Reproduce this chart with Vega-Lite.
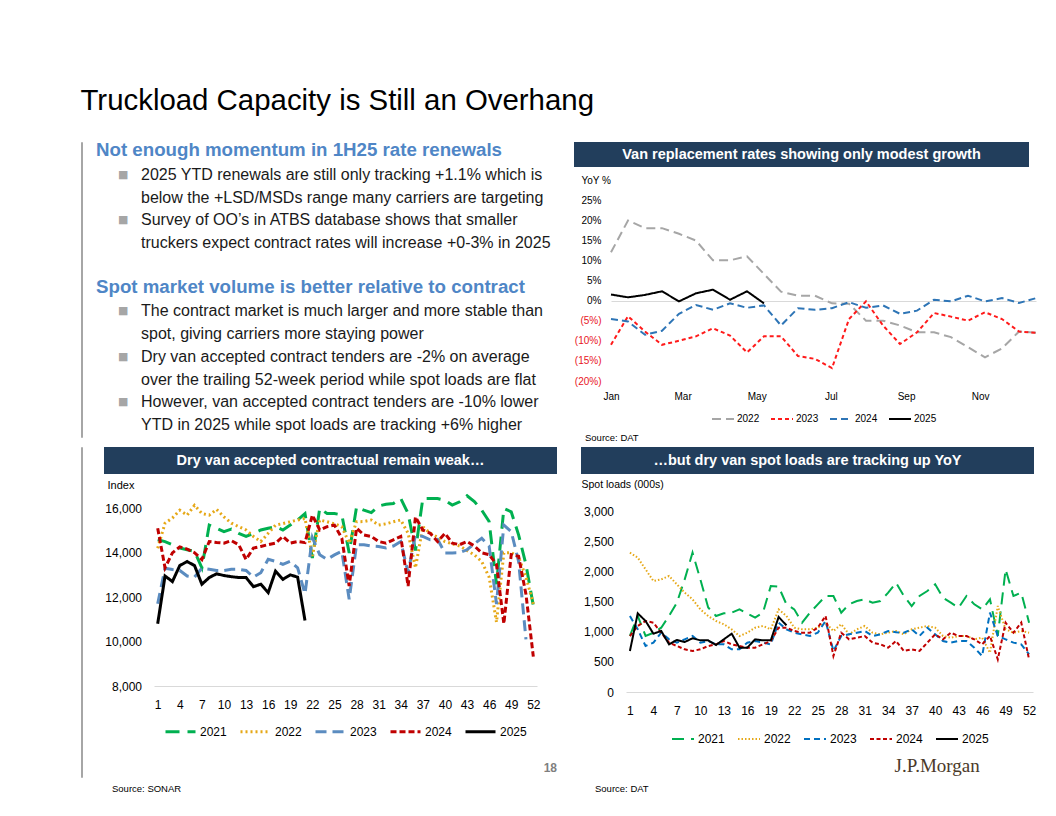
{
  "$schema": "https://vega.github.io/schema/vega-lite/v6.json",
  "background": "white",
  "padding": {"left": 80, "top": 86, "right": 0, "bottom": 0},
  "title": {"text": "Truckload Capacity is Still an Overhang", "anchor": "start", "fontSize": 29.4, "font": "Liberation Sans", "fontWeight": "normal", "color": "#000000", "offset": 20},
  "config": {
    "font": "Liberation Sans",
    "view": {"stroke": null},
    "legend": {"layout": {"bottom": {"anchor": "middle"}}}
  },
  "datasets": {
    "notes": [
      {"line": 0, "kind": "h", "text": "Not enough momentum in 1H25 rate renewals"},
      {"line": 1, "kind": "b", "bullet": true, "text": "2025 YTD renewals are still only tracking +1.1% which is"},
      {"line": 2, "kind": "b", "text": "below the +LSD/MSDs range many carriers are targeting"},
      {"line": 3, "kind": "b", "bullet": true, "text": "Survey of OO’s in ATBS database shows that smaller"},
      {"line": 4, "kind": "b", "text": "truckers expect contract rates will increase +0-3% in 2025"},
      {"line": 6, "kind": "h", "text": "Spot market volume is better relative to contract"},
      {"line": 7, "kind": "b", "bullet": true, "text": "The contract market is much larger and more stable than"},
      {"line": 8, "kind": "b", "text": "spot, giving carriers more staying power"},
      {"line": 9, "kind": "b", "bullet": true, "text": "Dry van accepted contract tenders are -2% on average"},
      {"line": 10, "kind": "b", "text": "over the trailing 52-week period while spot loads are flat"},
      {"line": 11, "kind": "b", "bullet": true, "text": "However, van accepted contract tenders are -10% lower"},
      {"line": 12, "kind": "b", "text": "YTD in 2025 while spot loads are tracking +6% higher"}
    ],
    "tr": [
      {"d":"2023-01-01","s":"2022","v":12.0},{"d":"2023-01-15","s":"2022","v":19.9},{"d":"2023-01-29","s":"2022","v":18.0},{"d":"2023-02-12","s":"2022","v":18.0},{"d":"2023-02-26","s":"2022","v":16.6},{"d":"2023-03-12","s":"2022","v":14.9},{"d":"2023-03-26","s":"2022","v":10.0},{"d":"2023-04-09","s":"2022","v":10.0},{"d":"2023-04-23","s":"2022","v":11.0},{"d":"2023-05-07","s":"2022","v":6.6},{"d":"2023-05-21","s":"2022","v":2.2},{"d":"2023-06-04","s":"2022","v":1.2},{"d":"2023-06-18","s":"2022","v":1.2},{"d":"2023-07-02","s":"2022","v":-0.7},{"d":"2023-07-16","s":"2022","v":-0.8},{"d":"2023-07-30","s":"2022","v":-5.0},{"d":"2023-08-13","s":"2022","v":-5.0},{"d":"2023-08-27","s":"2022","v":-6.2},{"d":"2023-09-10","s":"2022","v":-7.9},{"d":"2023-09-24","s":"2022","v":-7.9},{"d":"2023-10-08","s":"2022","v":-9.1},{"d":"2023-10-22","s":"2022","v":-11.6},{"d":"2023-11-05","s":"2022","v":-14.1},{"d":"2023-11-19","s":"2022","v":-11.9},{"d":"2023-12-03","s":"2022","v":-7.7},{"d":"2023-12-17","s":"2022","v":-8.0},
      {"d":"2023-01-01","s":"2023","v":-11.0},{"d":"2023-01-15","s":"2023","v":-3.9},{"d":"2023-01-29","s":"2023","v":-7.7},{"d":"2023-02-12","s":"2023","v":-11.0},{"d":"2023-02-26","s":"2023","v":-10.0},{"d":"2023-03-12","s":"2023","v":-8.9},{"d":"2023-03-26","s":"2023","v":-6.9},{"d":"2023-04-09","s":"2023","v":-8.7},{"d":"2023-04-23","s":"2023","v":-12.9},{"d":"2023-05-07","s":"2023","v":-8.9},{"d":"2023-05-21","s":"2023","v":-8.9},{"d":"2023-06-04","s":"2023","v":-13.8},{"d":"2023-06-18","s":"2023","v":-14.5},{"d":"2023-07-02","s":"2023","v":-16.8},{"d":"2023-07-16","s":"2023","v":-4.6},{"d":"2023-07-30","s":"2023","v":-0.2},{"d":"2023-08-13","s":"2023","v":-6.2},{"d":"2023-08-27","s":"2023","v":-10.8},{"d":"2023-09-10","s":"2023","v":-7.9},{"d":"2023-09-24","s":"2023","v":-3.1},{"d":"2023-10-08","s":"2023","v":-4.0},{"d":"2023-10-22","s":"2023","v":-5.0},{"d":"2023-11-05","s":"2023","v":-2.9},{"d":"2023-11-19","s":"2023","v":-4.6},{"d":"2023-12-03","s":"2023","v":-7.7},{"d":"2023-12-17","s":"2023","v":-8.0},
      {"d":"2023-01-01","s":"2024","v":-4.6},{"d":"2023-01-15","s":"2024","v":-5.2},{"d":"2023-01-29","s":"2024","v":-8.5},{"d":"2023-02-12","s":"2024","v":-7.5},{"d":"2023-02-26","s":"2024","v":-3.3},{"d":"2023-03-12","s":"2024","v":-1.1},{"d":"2023-03-26","s":"2024","v":-2.3},{"d":"2023-04-09","s":"2024","v":-0.7},{"d":"2023-04-23","s":"2024","v":-1.8},{"d":"2023-05-07","s":"2024","v":-1.2},{"d":"2023-05-21","s":"2024","v":-6.2},{"d":"2023-06-04","s":"2024","v":-1.9},{"d":"2023-06-18","s":"2024","v":-2.3},{"d":"2023-07-02","s":"2024","v":-1.9},{"d":"2023-07-16","s":"2024","v":-0.4},{"d":"2023-07-30","s":"2024","v":-1.8},{"d":"2023-08-13","s":"2024","v":-1.2},{"d":"2023-08-27","s":"2024","v":-3.3},{"d":"2023-09-10","s":"2024","v":-2.5},{"d":"2023-09-24","s":"2024","v":0.2},{"d":"2023-10-08","s":"2024","v":-0.2},{"d":"2023-10-22","s":"2024","v":1.2},{"d":"2023-11-05","s":"2024","v":-0.2},{"d":"2023-11-19","s":"2024","v":0.6},{"d":"2023-12-03","s":"2024","v":-0.6},{"d":"2023-12-17","s":"2024","v":0.6},
      {"d":"2023-01-01","s":"2025","v":1.5},{"d":"2023-01-15","s":"2025","v":0.8},{"d":"2023-01-29","s":"2025","v":1.4},{"d":"2023-02-12","s":"2025","v":2.3},{"d":"2023-02-26","s":"2025","v":-0.2},{"d":"2023-03-12","s":"2025","v":1.8},{"d":"2023-03-26","s":"2025","v":2.7},{"d":"2023-04-09","s":"2025","v":0.2},{"d":"2023-04-23","s":"2025","v":2.3},{"d":"2023-05-07","s":"2025","v":-0.7}
    ],
    "bl": [
      {"w":1,"s":"2021","v":14580},{"w":2,"s":"2021","v":14500},{"w":3,"s":"2021","v":14360},{"w":4,"s":"2021","v":14210},{"w":5,"s":"2021","v":14130},{"w":6,"s":"2021","v":14060},{"w":7,"s":"2021","v":13320},{"w":8,"s":"2021","v":15240},{"w":9,"s":"2021","v":15100},{"w":10,"s":"2021","v":14950},{"w":11,"s":"2021","v":15060},{"w":12,"s":"2021","v":14870},{"w":13,"s":"2021","v":14730},{"w":14,"s":"2021","v":14870},{"w":15,"s":"2021","v":15020},{"w":16,"s":"2021","v":15100},{"w":17,"s":"2021","v":15170},{"w":18,"s":"2021","v":15020},{"w":19,"s":"2021","v":15240},{"w":20,"s":"2021","v":15470},{"w":21,"s":"2021","v":15760},{"w":22,"s":"2021","v":13760},{"w":23,"s":"2021","v":15990},{"w":24,"s":"2021","v":15760},{"w":25,"s":"2021","v":15760},{"w":26,"s":"2021","v":15700},{"w":27,"s":"2021","v":13990},{"w":28,"s":"2021","v":16060},{"w":29,"s":"2021","v":15910},{"w":30,"s":"2021","v":15800},{"w":31,"s":"2021","v":16100},{"w":32,"s":"2021","v":16180},{"w":33,"s":"2021","v":16210},{"w":34,"s":"2021","v":16440},{"w":35,"s":"2021","v":15760},{"w":36,"s":"2021","v":14100},{"w":37,"s":"2021","v":16440},{"w":38,"s":"2021","v":16440},{"w":39,"s":"2021","v":16440},{"w":40,"s":"2021","v":16360},{"w":41,"s":"2021","v":16140},{"w":42,"s":"2021","v":16290},{"w":43,"s":"2021","v":16560},{"w":44,"s":"2021","v":16300},{"w":45,"s":"2021","v":15910},{"w":46,"s":"2021","v":15400},{"w":47,"s":"2021","v":12580},{"w":48,"s":"2021","v":15990},{"w":49,"s":"2021","v":15840},{"w":50,"s":"2021","v":14800},{"w":51,"s":"2021","v":13470},{"w":52,"s":"2021","v":11610},
      {"w":1,"s":"2022","v":14200},{"w":2,"s":"2022","v":15330},{"w":3,"s":"2022","v":15560},{"w":4,"s":"2022","v":15910},{"w":5,"s":"2022","v":15690},{"w":6,"s":"2022","v":16130},{"w":7,"s":"2022","v":15760},{"w":8,"s":"2022","v":15690},{"w":9,"s":"2022","v":15950},{"w":10,"s":"2022","v":15610},{"w":11,"s":"2022","v":15330},{"w":12,"s":"2022","v":15170},{"w":13,"s":"2022","v":15020},{"w":14,"s":"2022","v":14730},{"w":15,"s":"2022","v":14500},{"w":16,"s":"2022","v":14870},{"w":17,"s":"2022","v":15240},{"w":18,"s":"2022","v":15310},{"w":19,"s":"2022","v":15390},{"w":20,"s":"2022","v":15470},{"w":21,"s":"2022","v":15540},{"w":22,"s":"2022","v":13850},{"w":23,"s":"2022","v":15470},{"w":24,"s":"2022","v":15390},{"w":25,"s":"2022","v":15300},{"w":26,"s":"2022","v":15170},{"w":27,"s":"2022","v":14430},{"w":28,"s":"2022","v":15390},{"w":29,"s":"2022","v":15400},{"w":30,"s":"2022","v":15470},{"w":31,"s":"2022","v":15240},{"w":32,"s":"2022","v":15300},{"w":33,"s":"2022","v":15390},{"w":34,"s":"2022","v":15470},{"w":35,"s":"2022","v":14870},{"w":36,"s":"2022","v":13320},{"w":37,"s":"2022","v":15170},{"w":38,"s":"2022","v":14870},{"w":39,"s":"2022","v":14700},{"w":40,"s":"2022","v":14500},{"w":41,"s":"2022","v":14400},{"w":42,"s":"2022","v":14300},{"w":43,"s":"2022","v":14100},{"w":44,"s":"2022","v":13900},{"w":45,"s":"2022","v":13600},{"w":46,"s":"2022","v":12900},{"w":47,"s":"2022","v":10870},{"w":48,"s":"2022","v":13990},{"w":49,"s":"2022","v":14000},{"w":50,"s":"2022","v":13800},{"w":51,"s":"2022","v":12900},{"w":52,"s":"2022","v":11700},
      {"w":1,"s":"2023","v":11700},{"w":2,"s":"2023","v":13300},{"w":3,"s":"2023","v":13240},{"w":4,"s":"2023","v":13200},{"w":5,"s":"2023","v":12950},{"w":6,"s":"2023","v":12900},{"w":7,"s":"2023","v":13300},{"w":8,"s":"2023","v":13250},{"w":9,"s":"2023","v":13200},{"w":10,"s":"2023","v":13200},{"w":11,"s":"2023","v":13250},{"w":12,"s":"2023","v":13250},{"w":13,"s":"2023","v":13200},{"w":14,"s":"2023","v":12900},{"w":15,"s":"2023","v":13100},{"w":16,"s":"2023","v":13700},{"w":17,"s":"2023","v":13610},{"w":18,"s":"2023","v":13470},{"w":19,"s":"2023","v":13610},{"w":20,"s":"2023","v":13320},{"w":21,"s":"2023","v":12150},{"w":22,"s":"2023","v":14680},{"w":23,"s":"2023","v":13910},{"w":24,"s":"2023","v":13700},{"w":25,"s":"2023","v":13900},{"w":26,"s":"2023","v":14060},{"w":27,"s":"2023","v":11900},{"w":28,"s":"2023","v":14360},{"w":29,"s":"2023","v":14360},{"w":30,"s":"2023","v":14300},{"w":31,"s":"2023","v":14280},{"w":32,"s":"2023","v":14210},{"w":33,"s":"2023","v":14300},{"w":34,"s":"2023","v":14500},{"w":35,"s":"2023","v":13100},{"w":36,"s":"2023","v":14800},{"w":37,"s":"2023","v":14730},{"w":38,"s":"2023","v":14580},{"w":39,"s":"2023","v":14600},{"w":40,"s":"2023","v":13990},{"w":41,"s":"2023","v":13990},{"w":42,"s":"2023","v":14000},{"w":43,"s":"2023","v":14130},{"w":44,"s":"2023","v":14400},{"w":45,"s":"2023","v":14650},{"w":46,"s":"2023","v":14300},{"w":47,"s":"2023","v":11690},{"w":48,"s":"2023","v":15240},{"w":49,"s":"2023","v":14950},{"w":50,"s":"2023","v":13610},{"w":51,"s":"2023","v":10100},
      {"w":1,"s":"2024","v":15100},{"w":2,"s":"2024","v":13320},{"w":3,"s":"2024","v":13990},{"w":4,"s":"2024","v":14260},{"w":5,"s":"2024","v":14160},{"w":6,"s":"2024","v":14000},{"w":7,"s":"2024","v":13690},{"w":8,"s":"2024","v":14500},{"w":9,"s":"2024","v":14460},{"w":10,"s":"2024","v":14430},{"w":11,"s":"2024","v":14540},{"w":12,"s":"2024","v":14360},{"w":13,"s":"2024","v":13690},{"w":14,"s":"2024","v":14210},{"w":15,"s":"2024","v":14280},{"w":16,"s":"2024","v":14360},{"w":17,"s":"2024","v":14430},{"w":18,"s":"2024","v":14730},{"w":19,"s":"2024","v":14430},{"w":20,"s":"2024","v":14500},{"w":21,"s":"2024","v":14450},{"w":22,"s":"2024","v":15690},{"w":23,"s":"2024","v":15020},{"w":24,"s":"2024","v":15170},{"w":25,"s":"2024","v":15240},{"w":26,"s":"2024","v":14650},{"w":27,"s":"2024","v":12500},{"w":28,"s":"2024","v":15100},{"w":29,"s":"2024","v":14800},{"w":30,"s":"2024","v":14730},{"w":31,"s":"2024","v":14500},{"w":32,"s":"2024","v":14430},{"w":33,"s":"2024","v":14580},{"w":34,"s":"2024","v":14730},{"w":35,"s":"2024","v":12500},{"w":36,"s":"2024","v":15610},{"w":37,"s":"2024","v":15020},{"w":38,"s":"2024","v":14870},{"w":39,"s":"2024","v":14500},{"w":40,"s":"2024","v":14870},{"w":41,"s":"2024","v":14430},{"w":42,"s":"2024","v":14360},{"w":43,"s":"2024","v":14500},{"w":44,"s":"2024","v":14300},{"w":45,"s":"2024","v":13990},{"w":46,"s":"2024","v":13910},{"w":47,"s":"2024","v":13470},{"w":48,"s":"2024","v":10800},{"w":49,"s":"2024","v":13910},{"w":50,"s":"2024","v":13840},{"w":51,"s":"2024","v":12130},{"w":52,"s":"2024","v":9320},
      {"w":1,"s":"2025","v":10800},{"w":2,"s":"2025","v":12950},{"w":3,"s":"2025","v":12700},{"w":4,"s":"2025","v":13420},{"w":5,"s":"2025","v":13600},{"w":6,"s":"2025","v":13420},{"w":7,"s":"2025","v":12580},{"w":8,"s":"2025","v":12880},{"w":9,"s":"2025","v":13050},{"w":10,"s":"2025","v":12970},{"w":11,"s":"2025","v":12920},{"w":12,"s":"2025","v":12880},{"w":13,"s":"2025","v":12880},{"w":14,"s":"2025","v":12470},{"w":15,"s":"2025","v":12580},{"w":16,"s":"2025","v":12200},{"w":17,"s":"2025","v":13170},{"w":18,"s":"2025","v":12800},{"w":19,"s":"2025","v":13000},{"w":20,"s":"2025","v":12900},{"w":21,"s":"2025","v":10950}
    ],
    "br": [
      {"w":1,"s":"2021","v":930},{"w":2,"s":"2021","v":1260},{"w":3,"s":"2021","v":930},{"w":4,"s":"2021","v":980},{"w":5,"s":"2021","v":1066},{"w":6,"s":"2021","v":1260},{"w":7,"s":"2021","v":1480},{"w":8,"s":"2021","v":1867},{"w":9,"s":"2021","v":2310},{"w":10,"s":"2021","v":1867},{"w":11,"s":"2021","v":1400},{"w":12,"s":"2021","v":1260},{"w":13,"s":"2021","v":1304},{"w":14,"s":"2021","v":1315},{"w":15,"s":"2021","v":1370},{"w":16,"s":"2021","v":1300},{"w":17,"s":"2021","v":1232},{"w":18,"s":"2021","v":1315},{"w":19,"s":"2021","v":1757},{"w":20,"s":"2021","v":1746},{"w":21,"s":"2021","v":1453},{"w":22,"s":"2021","v":1370},{"w":23,"s":"2021","v":1149},{"w":24,"s":"2021","v":1315},{"w":25,"s":"2021","v":1453},{"w":26,"s":"2021","v":1591},{"w":27,"s":"2021","v":1591},{"w":28,"s":"2021","v":1315},{"w":29,"s":"2021","v":1453},{"w":30,"s":"2021","v":1508},{"w":31,"s":"2021","v":1536},{"w":32,"s":"2021","v":1480},{"w":33,"s":"2021","v":1508},{"w":34,"s":"2021","v":1646},{"w":35,"s":"2021","v":1812},{"w":36,"s":"2021","v":1591},{"w":37,"s":"2021","v":1425},{"w":38,"s":"2021","v":1591},{"w":39,"s":"2021","v":1674},{"w":40,"s":"2021","v":1785},{"w":41,"s":"2021","v":1564},{"w":42,"s":"2021","v":1480},{"w":43,"s":"2021","v":1398},{"w":44,"s":"2021","v":1591},{"w":45,"s":"2021","v":1453},{"w":46,"s":"2021","v":1370},{"w":47,"s":"2021","v":1536},{"w":48,"s":"2021","v":930},{"w":49,"s":"2021","v":2033},{"w":50,"s":"2021","v":1591},{"w":51,"s":"2021","v":1646},{"w":52,"s":"2021","v":1149},
      {"w":1,"s":"2022","v":2309},{"w":2,"s":"2022","v":2227},{"w":3,"s":"2022","v":2033},{"w":4,"s":"2022","v":1840},{"w":5,"s":"2022","v":1867},{"w":6,"s":"2022","v":1923},{"w":7,"s":"2022","v":1785},{"w":8,"s":"2022","v":1646},{"w":9,"s":"2022","v":1536},{"w":10,"s":"2022","v":1370},{"w":11,"s":"2022","v":1260},{"w":12,"s":"2022","v":1177},{"w":13,"s":"2022","v":1122},{"w":14,"s":"2022","v":1039},{"w":15,"s":"2022","v":928},{"w":16,"s":"2022","v":983},{"w":17,"s":"2022","v":1066},{"w":18,"s":"2022","v":1094},{"w":19,"s":"2022","v":1039},{"w":20,"s":"2022","v":1370},{"w":21,"s":"2022","v":1260},{"w":22,"s":"2022","v":1066},{"w":23,"s":"2022","v":1039},{"w":24,"s":"2022","v":1039},{"w":25,"s":"2022","v":1066},{"w":26,"s":"2022","v":1149},{"w":27,"s":"2022","v":1011},{"w":28,"s":"2022","v":1122},{"w":29,"s":"2022","v":956},{"w":30,"s":"2022","v":1039},{"w":31,"s":"2022","v":1094},{"w":32,"s":"2022","v":983},{"w":33,"s":"2022","v":956},{"w":34,"s":"2022","v":983},{"w":35,"s":"2022","v":1011},{"w":36,"s":"2022","v":956},{"w":37,"s":"2022","v":1039},{"w":38,"s":"2022","v":1066},{"w":39,"s":"2022","v":1094},{"w":40,"s":"2022","v":1066},{"w":41,"s":"2022","v":928},{"w":42,"s":"2022","v":900},{"w":43,"s":"2022","v":928},{"w":44,"s":"2022","v":928},{"w":45,"s":"2022","v":873},{"w":46,"s":"2022","v":900},{"w":47,"s":"2022","v":652},{"w":48,"s":"2022","v":1425},{"w":49,"s":"2022","v":1039},{"w":50,"s":"2022","v":983},{"w":51,"s":"2022","v":1011},{"w":52,"s":"2022","v":983},
      {"w":1,"s":"2023","v":1260},{"w":2,"s":"2023","v":1039},{"w":3,"s":"2023","v":762},{"w":4,"s":"2023","v":818},{"w":5,"s":"2023","v":983},{"w":6,"s":"2023","v":873},{"w":7,"s":"2023","v":818},{"w":8,"s":"2023","v":873},{"w":9,"s":"2023","v":928},{"w":10,"s":"2023","v":818},{"w":11,"s":"2023","v":845},{"w":12,"s":"2023","v":790},{"w":13,"s":"2023","v":790},{"w":14,"s":"2023","v":707},{"w":15,"s":"2023","v":707},{"w":16,"s":"2023","v":818},{"w":17,"s":"2023","v":845},{"w":18,"s":"2023","v":818},{"w":19,"s":"2023","v":790},{"w":20,"s":"2023","v":1149},{"w":21,"s":"2023","v":1039},{"w":22,"s":"2023","v":983},{"w":23,"s":"2023","v":956},{"w":24,"s":"2023","v":928},{"w":25,"s":"2023","v":983},{"w":26,"s":"2023","v":1177},{"w":27,"s":"2023","v":680},{"w":28,"s":"2023","v":928},{"w":29,"s":"2023","v":956},{"w":30,"s":"2023","v":983},{"w":31,"s":"2023","v":1011},{"w":32,"s":"2023","v":928},{"w":33,"s":"2023","v":956},{"w":34,"s":"2023","v":1011},{"w":35,"s":"2023","v":990},{"w":36,"s":"2023","v":983},{"w":37,"s":"2023","v":1039},{"w":38,"s":"2023","v":928},{"w":39,"s":"2023","v":1066},{"w":40,"s":"2023","v":956},{"w":41,"s":"2023","v":845},{"w":42,"s":"2023","v":818},{"w":43,"s":"2023","v":845},{"w":44,"s":"2023","v":845},{"w":45,"s":"2023","v":735},{"w":46,"s":"2023","v":597},{"w":47,"s":"2023","v":1315},{"w":48,"s":"2023","v":928},{"w":49,"s":"2023","v":873},{"w":50,"s":"2023","v":818},{"w":51,"s":"2023","v":790},{"w":52,"s":"2023","v":624},
      {"w":1,"s":"2024","v":928},{"w":2,"s":"2024","v":1094},{"w":3,"s":"2024","v":1177},{"w":4,"s":"2024","v":1149},{"w":5,"s":"2024","v":983},{"w":6,"s":"2024","v":818},{"w":7,"s":"2024","v":762},{"w":8,"s":"2024","v":707},{"w":9,"s":"2024","v":680},{"w":10,"s":"2024","v":707},{"w":11,"s":"2024","v":762},{"w":12,"s":"2024","v":790},{"w":13,"s":"2024","v":845},{"w":14,"s":"2024","v":790},{"w":15,"s":"2024","v":762},{"w":16,"s":"2024","v":735},{"w":17,"s":"2024","v":735},{"w":18,"s":"2024","v":790},{"w":19,"s":"2024","v":845},{"w":20,"s":"2024","v":1066},{"w":21,"s":"2024","v":1066},{"w":22,"s":"2024","v":1011},{"w":23,"s":"2024","v":983},{"w":24,"s":"2024","v":983},{"w":25,"s":"2024","v":1066},{"w":26,"s":"2024","v":1260},{"w":27,"s":"2024","v":597},{"w":28,"s":"2024","v":983},{"w":29,"s":"2024","v":873},{"w":30,"s":"2024","v":900},{"w":31,"s":"2024","v":928},{"w":32,"s":"2024","v":818},{"w":33,"s":"2024","v":790},{"w":34,"s":"2024","v":735},{"w":35,"s":"2024","v":845},{"w":36,"s":"2024","v":680},{"w":37,"s":"2024","v":707},{"w":38,"s":"2024","v":680},{"w":39,"s":"2024","v":818},{"w":40,"s":"2024","v":956},{"w":41,"s":"2024","v":873},{"w":42,"s":"2024","v":983},{"w":43,"s":"2024","v":928},{"w":44,"s":"2024","v":928},{"w":45,"s":"2024","v":873},{"w":46,"s":"2024","v":790},{"w":47,"s":"2024","v":928},{"w":48,"s":"2024","v":541},{"w":49,"s":"2024","v":1149},{"w":50,"s":"2024","v":983},{"w":51,"s":"2024","v":1149},{"w":52,"s":"2024","v":541},
      {"w":1,"s":"2025","v":680},{"w":2,"s":"2025","v":1304},{"w":3,"s":"2025","v":1177},{"w":4,"s":"2025","v":967},{"w":5,"s":"2025","v":1011},{"w":6,"s":"2025","v":790},{"w":7,"s":"2025","v":862},{"w":8,"s":"2025","v":829},{"w":9,"s":"2025","v":890},{"w":10,"s":"2025","v":856},{"w":11,"s":"2025","v":856},{"w":12,"s":"2025","v":779},{"w":13,"s":"2025","v":873},{"w":14,"s":"2025","v":967},{"w":15,"s":"2025","v":735},{"w":16,"s":"2025","v":735},{"w":17,"s":"2025","v":873},{"w":18,"s":"2025","v":856},{"w":19,"s":"2025","v":856},{"w":20,"s":"2025","v":1243},{"w":21,"s":"2025","v":1105}
    ]
  },
  "resolve": {"scale": {"color": "independent", "strokeDash": "independent"}},
  "spacing": -2,
  "vconcat": [
    {
      "resolve": {"scale": {"color": "independent", "strokeDash": "independent"}},
      "spacing": 13,
      "hconcat": [
        {
          "width": 1, "height": 295,
          "data": {"values": [{}]},
          "mark": {"type": "text"},
          "encoding": {"text": {"value": ""}},
          "view": {"stroke": "#a6a6a6", "strokeWidth": 1}
        },
        {
          "width": 464, "height": 273,
          "data": {"name": "notes"},
          "encoding": {
            "y": {"field": "line", "type": "quantitative", "scale": {"domain": [0, 12], "reverse": true, "nice": false, "zero": false}, "axis": null},
            "x": {"value": 0}
          },
          "layer": [
            {"transform": [{"filter": "datum.kind === 'h'"}], "mark": {"type": "text", "align": "left", "baseline": "middle", "fontSize": 18.7, "fontWeight": "bold", "color": "#4f86c6", "dy": 8}, "encoding": {"text": {"field": "text"}}},
            {"transform": [{"filter": "datum.kind === 'b'"}], "mark": {"type": "text", "align": "left", "baseline": "middle", "fontSize": 16, "color": "#1a1a1a", "dx": 45, "dy": 10}, "encoding": {"text": {"field": "text"}}},
            {"transform": [{"filter": "datum.bullet === true"}], "mark": {"type": "text", "align": "left", "baseline": "middle", "fontSize": 11, "font": "DejaVu Sans", "color": "#a6a6a6", "dx": 22, "dy": 10}, "encoding": {"text": {"value": "■"}}}
          ]
        },
        {
          "resolve": {"scale": {"color": "independent", "strokeDash": "independent"}},
          "title": {"text": "Source: DAT", "orient": "bottom", "anchor": "start", "fontSize": 9.5, "fontWeight": "normal", "color": "#000000", "offset": 9, "dx": 12},
          "columns": 2,
          "align": "none",
          "spacing": {"row": 8, "column": 0},
          "concat": [
            {"width": 1, "height": 1, "data": {"values": [{}]}, "mark": {"type": "text"}, "encoding": {"text": {"value": ""}}},
            {
              "width": 455, "height": 25,
              "data": {"values": [{"t": "Van replacement rates showing only modest growth"}]},
              "mark": {"type": "text", "color": "white", "fontSize": 14.5, "fontWeight": "bold", "align": "center", "baseline": "middle"},
              "encoding": {"text": {"field": "t"}},
              "view": {"fill": "#223e5c", "stroke": null}
            },
            {"width": 1, "height": 1, "data": {"values": [{}]}, "mark": {"type": "text"}, "encoding": {"text": {"value": ""}}},
            {
              "width": 425, "height": 181,
              "data": {"name": "tr"},
              "mark": {"type": "line", "strokeWidth": 2},
              "encoding": {
                "x": {"field": "d", "type": "temporal",
                  "scale": {"type": "utc", "domain": [{"year": 2023, "month": 1, "date": 1, "utc": true}, {"year": 2023, "month": 12, "date": 17, "utc": true}]},
                  "axis": {"title": null, "labelExpr": "utcFormat(datum.value, '%b')", "values": [{"year": 2023, "month": 1, "date": 1, "utc": true}, {"year": 2023, "month": 3, "date": 1, "utc": true}, {"year": 2023, "month": 5, "date": 1, "utc": true}, {"year": 2023, "month": 7, "date": 1, "utc": true}, {"year": 2023, "month": 9, "date": 1, "utc": true}, {"year": 2023, "month": 11, "date": 1, "utc": true}],
                    "domain": false, "ticks": false, "tickSize": 0, "grid": false, "labelPadding": 10, "labelFontSize": 10, "labelColor": "#000000", "labelFlush": false, "labelOverlap": false}},
                "y": {"field": "v", "type": "quantitative",
                  "scale": {"domain": [-20, 25], "nice": false, "zero": false},
                  "axis": {"title": "YoY %", "titleAngle": 0, "titleAlign": "left", "titleBaseline": "middle", "titleX": -30, "titleY": -20, "titleFontSize": 10, "titleFontWeight": "normal", "titleColor": "#000000",
                    "values": [-20, -15, -10, -5, 0, 5, 10, 15, 20, 25], "domain": false, "ticks": false, "tickSize": 0,
                    "grid": true, "gridColor": "#d9d9d9", "gridWidth": 1, "gridOpacity": {"condition": {"test": "datum.value === 0", "value": 1}, "value": 0},
                    "labelPadding": 10, "labelFontSize": 10, "labelOverlap": false,
                    "labelExpr": "datum.value < 0 ? '(' + (-datum.value) + '%)' : datum.value + '%'",
                    "labelColor": {"condition": {"test": "datum.value < 0", "value": "#e8141e"}, "value": "#000000"}}},
                "color": {"field": "s", "type": "nominal",
                  "scale": {"domain": ["2022", "2023", "2024", "2025"], "range": ["#a6a6a6", "#ff1a1a", "#2e75b6", "#000000"]},
                  "legend": {"title": null, "orient": "bottom", "direction": "horizontal", "offset": 6, "symbolType": "stroke", "symbolSize": 484, "symbolStrokeWidth": 2, "labelFontSize": 10, "labelColor": "#000000", "columnPadding": 7, "labelOffset": 2}},
                "strokeDash": {"field": "s", "type": "nominal",
                  "scale": {"domain": ["2022", "2023", "2024", "2025"], "range": [[9, 5], [4, 3], [7, 4], [1, 0]]},
                  "legend": {"title": null, "orient": "bottom", "direction": "horizontal", "offset": 6, "symbolType": "stroke", "symbolSize": 484, "symbolStrokeWidth": 2, "labelFontSize": 10, "labelColor": "#000000", "columnPadding": 7, "labelOffset": 2}}
              }
            }
          ]
        }
      ]
    },
    {
      "resolve": {"scale": {"color": "independent", "strokeDash": "independent"}},
      "spacing": 20,
      "hconcat": [
        {
          "width": 1, "height": 330,
          "data": {"values": [{}]},
          "mark": {"type": "text"},
          "encoding": {"text": {"value": ""}},
          "view": {"stroke": "#a6a6a6", "strokeWidth": 1}
        },
        {
          "resolve": {"scale": {"color": "independent", "strokeDash": "independent"}},
          "spacing": 23,
          "hconcat": [
            {
              "resolve": {"scale": {"color": "independent", "strokeDash": "independent"}},
              "title": {"text": "18", "orient": "bottom", "anchor": "end", "offset": -31, "fontSize": 12, "fontWeight": "bold", "color": "#7f7f7f"},
              "vconcat": [
                {
                  "resolve": {"scale": {"color": "independent", "strokeDash": "independent"}},
                  "title": {"text": "Source: SONAR", "orient": "bottom", "anchor": "start", "fontSize": 9.5, "fontWeight": "normal", "color": "#000000", "offset": 46, "dx": 9},
                  "columns": 2,
                  "align": "none",
                  "spacing": {"row": 5, "column": 0},
                  "concat": [
                    {"width": 1, "height": 1, "data": {"values": [{}]}, "mark": {"type": "text"}, "encoding": {"text": {"value": ""}}},
                    {
                      "width": 453, "height": 27,
                      "data": {"values": [{"t": "Dry van accepted contractual remain weak…"}]},
                      "mark": {"type": "text", "color": "white", "fontSize": 14.5, "fontWeight": "bold", "align": "center", "baseline": "middle"},
                      "encoding": {"text": {"field": "t"}},
                      "view": {"fill": "#223e5c", "stroke": null}
                    },
                    {"width": 1, "height": 1, "data": {"values": [{}]}, "mark": {"type": "text"}, "encoding": {"text": {"value": ""}}},
                    {
                      "width": 383, "height": 200,
                      "data": {"name": "bl"},
                      "mark": {"type": "line", "strokeWidth": 3, "strokeCap": "butt"},
                      "encoding": {
                        "x": {"field": "w", "type": "quantitative", "scale": {"domain": [0.5, 52.5], "nice": false, "zero": false},
                          "axis": {"title": null, "values": [1, 4, 7, 10, 13, 16, 19, 22, 25, 28, 31, 34, 37, 40, 43, 46, 49, 52], "domain": true, "domainColor": "#d9d9d9", "ticks": false, "tickSize": 0, "grid": false, "labelPadding": 13, "labelFontSize": 12, "labelColor": "#000000", "labelFlush": false, "labelOverlap": false}},
                        "y": {"field": "v", "type": "quantitative", "scale": {"domain": [8000, 17000], "nice": false, "zero": false},
                          "axis": {"title": "Index", "titleAngle": 0, "titleAlign": "left", "titleBaseline": "middle", "titleX": -47, "titleY": -1, "titleFontSize": 11, "titleFontWeight": "normal", "titleColor": "#000000",
                            "values": [8000, 10000, 12000, 14000, 16000], "format": ",.0f", "domain": false, "ticks": false, "tickSize": 0, "grid": false, "labelPadding": 12.5, "labelFontSize": 12, "labelColor": "#000000", "labelOverlap": false}},
                        "color": {"field": "s", "type": "nominal",
                          "scale": {"domain": ["2021", "2022", "2023", "2024", "2025"], "range": ["#00b050", "#e6a817", "#5b8cc0", "#c00000", "#000000"]},
                          "legend": {"title": null, "orient": "bottom", "direction": "horizontal", "offset": 5, "symbolType": "stroke", "symbolSize": 900, "symbolStrokeWidth": 3, "labelFontSize": 12, "labelColor": "#000000", "columnPadding": 7, "labelOffset": 3}},
                        "strokeDash": {"field": "s", "type": "nominal",
                          "scale": {"domain": ["2021", "2022", "2023", "2024", "2025"], "range": [[14, 8], [2, 3], [11, 6], [6, 3], [1, 0]]},
                          "legend": {"title": null, "orient": "bottom", "direction": "horizontal", "offset": 5, "symbolType": "stroke", "symbolSize": 900, "symbolStrokeWidth": 3, "labelFontSize": 12, "labelColor": "#000000", "columnPadding": 7, "labelOffset": 3}}
                      }
                    }
                  ]
                }
              ]
            },
            {
              "resolve": {"scale": {"color": "independent", "strokeDash": "independent"}},
              "title": {"text": "J.P.Morgan", "orient": "bottom", "anchor": "end", "offset": -37, "dx": -56, "font": "Liberation Serif", "fontSize": 19, "fontWeight": "normal", "color": "#4b3a2a"},
              "vconcat": [
                {
                  "resolve": {"scale": {"color": "independent", "strokeDash": "independent"}},
                  "title": {"text": "Source: DAT", "orient": "bottom", "anchor": "start", "fontSize": 9.5, "fontWeight": "normal", "color": "#000000", "offset": 39, "dx": 15},
                  "columns": 2,
                  "align": "none",
                  "spacing": {"row": 5, "column": 0},
                  "concat": [
                    {"width": 1, "height": 1, "data": {"values": [{}]}, "mark": {"type": "text"}, "encoding": {"text": {"value": ""}}},
                    {
                      "width": 453, "height": 27,
                      "data": {"values": [{"t": "…but dry van spot loads are tracking up YoY"}]},
                      "mark": {"type": "text", "color": "white", "fontSize": 14.5, "fontWeight": "bold", "align": "center", "baseline": "middle"},
                      "encoding": {"text": {"field": "t"}},
                      "view": {"fill": "#223e5c", "stroke": null}
                    },
                    {"width": 1, "height": 1, "data": {"values": [{}]}, "mark": {"type": "text"}, "encoding": {"text": {"value": ""}}},
                    {
                      "width": 407, "height": 181,
                      "data": {"name": "br"},
                      "mark": {"type": "line", "strokeWidth": 2, "strokeCap": "butt"},
                      "encoding": {
                        "x": {"field": "w", "type": "quantitative", "scale": {"domain": [0.5, 52.5], "nice": false, "zero": false},
                          "axis": {"title": null, "values": [1, 4, 7, 10, 13, 16, 19, 22, 25, 28, 31, 34, 37, 40, 43, 46, 49, 52], "domain": true, "domainColor": "#d9d9d9", "ticks": false, "tickSize": 0, "grid": false, "labelPadding": 13, "labelFontSize": 12, "labelColor": "#000000", "labelFlush": false, "labelOverlap": false}},
                        "y": {"field": "v", "type": "quantitative", "scale": {"domain": [0, 3000], "nice": false, "zero": false},
                          "axis": {"title": "Spot loads (000s)", "titleAngle": 0, "titleAlign": "left", "titleBaseline": "middle", "titleX": -45, "titleY": -27, "titleFontSize": 10.5, "titleFontWeight": "normal", "titleColor": "#000000",
                            "values": [0, 500, 1000, 1500, 2000, 2500, 3000], "format": ",.0f", "domain": false, "ticks": false, "tickSize": 0, "grid": false, "labelPadding": 12.5, "labelFontSize": 12, "labelColor": "#000000", "labelOverlap": false}},
                        "color": {"field": "s", "type": "nominal",
                          "scale": {"domain": ["2021", "2022", "2023", "2024", "2025"], "range": ["#00b050", "#e6a817", "#0070c0", "#c00000", "#000000"]},
                          "legend": {"title": null, "orient": "bottom", "direction": "horizontal", "offset": 11, "symbolType": "stroke", "symbolSize": 484, "symbolStrokeWidth": 2, "labelFontSize": 12, "labelColor": "#000000", "columnPadding": 9, "labelOffset": 3}},
                        "strokeDash": {"field": "s", "type": "nominal",
                          "scale": {"domain": ["2021", "2022", "2023", "2024", "2025"], "range": [[12, 7], [1.5, 2], [6, 4], [4, 2.5], [1, 0]]},
                          "legend": {"title": null, "orient": "bottom", "direction": "horizontal", "offset": 11, "symbolType": "stroke", "symbolSize": 484, "symbolStrokeWidth": 2, "labelFontSize": 12, "labelColor": "#000000", "columnPadding": 9, "labelOffset": 3}}
                      }
                    }
                  ]
                }
              ]
            }
          ]
        }
      ]
    }
  ]
}
